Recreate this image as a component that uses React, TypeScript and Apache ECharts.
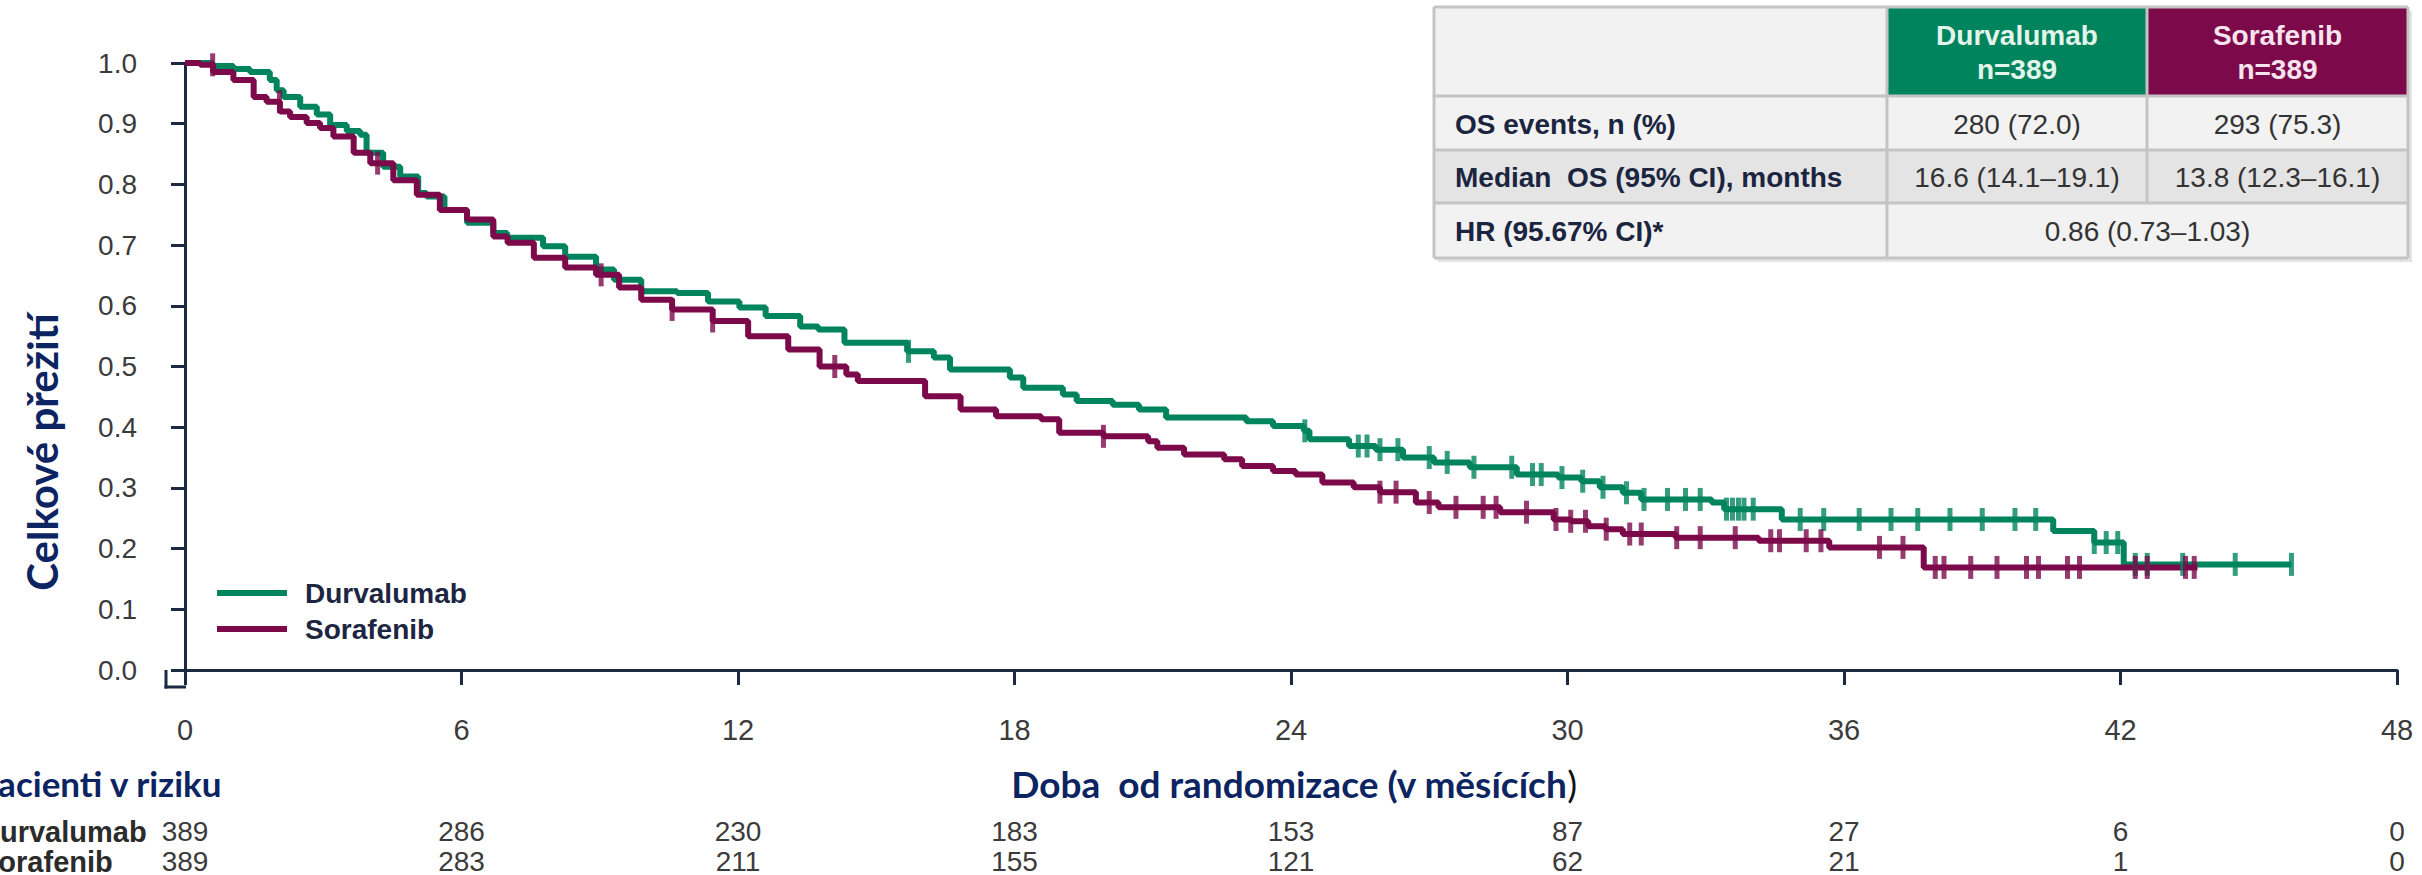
import { useEffect, useRef } from "react";
import * as echarts from "echarts";

// Months since randomisation shown on the time axis and the risk table
const monthTicks = [0, 6, 12, 18, 24, 30, 36, 42, 48];
const durvalumabAtRisk = [389, 286, 230, 183, 153, 87, 27, 6, 0];
const sorafenibAtRisk = [389, 283, 211, 155, 121, 62, 21, 1, 0];

// Kaplan–Meier estimates: [month, survival probability] after each drop
const durvalumabCurve: [number, number][] = [
  [0, 1.0], [0.6, 0.995], [1.05, 0.99], [1.41, 0.985], [1.84, 0.972], [1.99, 0.955],
  [2.14, 0.944], [2.5, 0.928], [2.86, 0.915], [3.15, 0.898], [3.51, 0.888], [3.8, 0.882],
  [3.94, 0.852], [4.3, 0.829], [4.67, 0.813], [5.06, 0.786], [5.24, 0.78], [5.63, 0.758],
  [6.12, 0.737], [6.69, 0.72], [6.99, 0.712], [7.77, 0.698], [8.25, 0.681], [8.92, 0.66],
  [9.31, 0.643], [9.9, 0.624], [10.68, 0.621], [11.35, 0.607], [12.03, 0.597], [12.6, 0.583],
  [13.35, 0.566], [13.74, 0.561], [14.31, 0.539], [15.67, 0.525], [16.25, 0.515], [16.6, 0.495],
  [17.9, 0.482], [18.19, 0.465], [19.05, 0.454], [19.35, 0.443], [20.13, 0.437], [20.7, 0.429],
  [21.29, 0.416], [23.03, 0.41], [23.61, 0.402], [24.28, 0.394], [24.4, 0.38], [25.26, 0.369],
  [25.84, 0.363], [26.43, 0.35], [27.1, 0.342], [27.88, 0.334], [28.9, 0.322], [29.8, 0.317],
  [30.3, 0.311], [30.7, 0.301], [31.2, 0.292], [31.6, 0.281], [33.13, 0.276], [33.4, 0.265],
  [34.65, 0.248], [40.54, 0.229], [41.43, 0.21], [42.07, 0.174], [45.71, 0.174],
];
const sorafenibCurve: [number, number][] = [
  [0, 1.0], [0.33, 0.997], [0.61, 0.985], [1.05, 0.972], [1.49, 0.944], [1.77, 0.936],
  [2.06, 0.92], [2.28, 0.911], [2.64, 0.901], [2.93, 0.893], [3.22, 0.879], [3.66, 0.852],
  [4.02, 0.835], [4.52, 0.807], [5.03, 0.783], [5.53, 0.758], [6.12, 0.742], [6.69, 0.714],
  [7.0, 0.704], [7.57, 0.679], [8.25, 0.663], [8.92, 0.651], [9.42, 0.63], [9.9, 0.61],
  [10.57, 0.594], [11.45, 0.575], [12.22, 0.55], [13.09, 0.528], [13.77, 0.5], [14.35, 0.487],
  [14.6, 0.476], [16.06, 0.451], [16.83, 0.429], [17.6, 0.418], [18.58, 0.413], [18.97, 0.391],
  [19.93, 0.385], [20.9, 0.377], [21.1, 0.366], [21.68, 0.355], [22.55, 0.347], [22.94, 0.336],
  [23.61, 0.328], [24.1, 0.322], [24.68, 0.309], [25.36, 0.301], [25.93, 0.293], [26.71, 0.276],
  [27.2, 0.268], [28.54, 0.26], [29.7, 0.248], [30.07, 0.245], [30.45, 0.237], [30.83, 0.232],
  [31.2, 0.224], [32.35, 0.218], [34.15, 0.213], [35.68, 0.202], [37.73, 0.169], [43.67, 0.169],
];

// Months at which patients were censored
const durvalumabCensored = [
  15.7, 24.3, 25.46, 25.65, 25.93, 26.32, 27.0, 27.39, 27.97, 28.79, 29.24, 29.43, 29.88,
  30.33, 30.77, 31.28, 31.66, 32.17, 32.56, 32.88, 33.45, 33.58, 33.71, 33.83, 34.03, 35.05,
  35.56, 36.33, 37.02, 37.6, 38.3, 39.0, 39.71, 40.16, 41.43, 41.69, 41.94, 42.32, 42.58,
  43.35, 44.49, 45.71,
];
const sorafenibCensored = [
  0.6, 2.05, 4.18, 9.03, 10.57, 11.45, 14.1, 19.93, 25.93, 26.28, 27.0, 27.58, 28.17, 28.45,
  29.11, 29.75, 30.07, 30.39, 30.84, 31.35, 31.6, 32.37, 32.88, 33.64, 34.41, 34.6, 35.18,
  35.5, 36.77, 37.28, 37.98, 38.17, 38.75, 39.32, 39.96, 40.22, 40.85, 41.11, 42.32, 42.58,
  43.41, 43.6,
];

// Summary table
const armHeaders = ["Durvalumab", "Sorafenib"];
const armSizes = ["n=389", "n=389"];
const statLabels = ["OS events, n (%)", "Median  OS (95% CI), months", "HR (95.67% CI)*"];
const durvalumabStats = ["280 (72.0)", "16.6 (14.1–19.1)"];
const sorafenibStats = ["293 (75.3)", "13.8 (12.3–16.1)"];
const hazardRatio = "0.86 (0.73–1.03)";

const GREEN = "#00845e";
const MAROON = "#7c0a4b";
const AXIS = "#1b2943";
const NAVY = "#0c2461";
const LABEL = "#3b3b3b";
const SANS = "'Liberation Sans', Arial, sans-serif";
const TITLE_FONT = "Lato, 'Open Sans', sans-serif";

function survivalAt(curve: [number, number][], t: number): number {
  let s = curve[0][1];
  for (const [time, value] of curve) {
    if (time <= t) s = value;
    else break;
  }
  return s;
}

function riskAxis(counts: number[], offset: number) {
  return {
    type: "value",
    min: 0,
    max: 48,
    interval: 6,
    position: "bottom",
    offset,
    axisLine: { show: false },
    axisTick: { show: false },
    splitLine: { show: false },
    axisLabel: {
      margin: 0,
      fontFamily: SANS,
      fontSize: 28,
      color: LABEL,
      formatter: (v: number) => {
        const i = monthTicks.indexOf(v);
        return i >= 0 ? String(counts[i]) : "";
      },
    },
  };
}

function buildTable() {
  const left = 1434;
  const right = 2408;
  const col1 = 1887;
  const col2 = 2147;
  const rows = [7, 96, 150, 203, 258];
  const line = "#c4c4c4";
  const c1 = (col1 + col2) / 2;
  const c2 = (col2 + right) / 2;
  const children: any[] = [
    // soft drop shadow behind the table
    { type: "rect", shape: { x: left + 4, y: rows[0] + 4, width: right - left, height: rows[4] - rows[0] }, style: { fill: "#e4e4e4" } },
    { type: "rect", shape: { x: left, y: rows[0], width: right - left, height: rows[4] - rows[0] }, style: { fill: "#f2f2f2" } },
    { type: "rect", shape: { x: left, y: rows[2], width: right - left, height: rows[3] - rows[2] }, style: { fill: "#e4e4e4" } },
    { type: "rect", shape: { x: col1, y: rows[0], width: col2 - col1, height: rows[1] - rows[0] }, style: { fill: GREEN } },
    { type: "rect", shape: { x: col2, y: rows[0], width: right - col2, height: rows[1] - rows[0] }, style: { fill: MAROON } },
  ];
  for (const y of rows) {
    children.push({ type: "line", shape: { x1: left, y1: y, x2: right, y2: y }, style: { stroke: line, lineWidth: 3 } });
  }
  children.push({ type: "line", shape: { x1: left, y1: rows[0], x2: left, y2: rows[4] }, style: { stroke: line, lineWidth: 3 } });
  children.push({ type: "line", shape: { x1: right, y1: rows[0], x2: right, y2: rows[4] }, style: { stroke: line, lineWidth: 3 } });
  children.push({ type: "line", shape: { x1: col1, y1: rows[0], x2: col1, y2: rows[4] }, style: { stroke: line, lineWidth: 3 } });
  children.push({ type: "line", shape: { x1: col2, y1: rows[0], x2: col2, y2: rows[3] }, style: { stroke: line, lineWidth: 3 } });

  const headerX = [c1, c2];
  const headerInk = ["#e3f4ea", "#f8e4ee"];
  armHeaders.forEach((h, i) => {
    children.push({ type: "text", style: { text: h, x: headerX[i], y: 35, textAlign: "center", textVerticalAlign: "middle", fill: headerInk[i], font: `bold 28px ${SANS}` } });
    children.push({ type: "text", style: { text: armSizes[i], x: headerX[i], y: 69, textAlign: "center", textVerticalAlign: "middle", fill: headerInk[i], font: `bold 28px ${SANS}` } });
  });
  statLabels.forEach((label, i) => {
    const cy = (rows[i + 1] + rows[i + 2]) / 2 + 1;
    children.push({ type: "text", style: { text: label, x: left + 21, y: cy, textVerticalAlign: "middle", fill: "#1b2540", font: `bold 28px ${SANS}` } });
    if (i < 2) {
      children.push({ type: "text", style: { text: durvalumabStats[i], x: c1, y: cy, textAlign: "center", textVerticalAlign: "middle", fill: "#333", font: `28px ${SANS}` } });
      children.push({ type: "text", style: { text: sorafenibStats[i], x: c2, y: cy, textAlign: "center", textVerticalAlign: "middle", fill: "#333", font: `28px ${SANS}` } });
    } else {
      children.push({ type: "text", style: { text: hazardRatio, x: (col1 + right) / 2, y: cy, textAlign: "center", textVerticalAlign: "middle", fill: "#333", font: `28px ${SANS}` } });
    }
  });
  return { type: "group", children };
}

export default function App() {
  const ref = useRef<HTMLDivElement>(null);

  useEffect(() => {
    if (!ref.current) return;
    const chart = echarts.init(ref.current, null, { renderer: "svg" });

    const lineSeries = (name: string, color: string, data: [number, number][]) => ({
      name,
      type: "line",
      step: "end",
      data,
      showSymbol: false,
      silent: true,
      color,
      lineStyle: { color, width: 6 },
      z: 3,
    });
    const censorSeries = (name: string, color: string, curve: [number, number][], times: number[]) => ({
      name,
      type: "scatter",
      data: times.map((t) => [t, survivalAt(curve, t)]),
      symbol: "rect",
      symbolSize: [5, 23],
      silent: true,
      itemStyle: { color },
      z: 4,
    });

    chart.setOption({
      animation: false,
      backgroundColor: "#ffffff",
      grid: { left: 185, right: 25, top: 63, bottom: 204 },
      legend: {
        data: ["Durvalumab", "Sorafenib"],
        orient: "vertical",
        left: 212,
        top: 574,
        icon: "rect",
        itemWidth: 70,
        itemHeight: 6,
        itemGap: 8,
        selectedMode: false,
        textStyle: { fontFamily: SANS, fontSize: 28, fontWeight: "bold", color: "#1c2541", padding: [0, 0, 0, 13] },
      },
      xAxis: [
        {
          type: "value",
          min: 0,
          max: 48,
          interval: 6,
          offset: 16,
          axisLine: { show: true, lineStyle: { color: AXIS, width: 3 } },
          axisTick: { show: true, length: 15, lineStyle: { color: AXIS, width: 3 } },
          splitLine: { show: false },
          axisLabel: { margin: 29, fontFamily: SANS, fontSize: 29, color: LABEL },
        },
        riskAxis(durvalumabAtRisk, 147),
        riskAxis(sorafenibAtRisk, 177),
      ],
      yAxis: {
        type: "value",
        min: 0,
        max: 1,
        interval: 0.1,
        offset: 19,
        axisLine: { show: true, lineStyle: { color: AXIS, width: 3 } },
        axisTick: { show: true, length: 14, lineStyle: { color: AXIS, width: 3 } },
        splitLine: { show: false },
        axisLabel: { margin: 29, fontFamily: SANS, fontSize: 28, color: LABEL, formatter: (v: number) => v.toFixed(1) },
      },
      series: [
        lineSeries("Durvalumab", GREEN, durvalumabCurve),
        lineSeries("Sorafenib", MAROON, sorafenibCurve),
        censorSeries("Durvalumab censored", GREEN, durvalumabCurve, durvalumabCensored),
        censorSeries("Sorafenib censored", MAROON, sorafenibCurve, sorafenibCensored),
      ],
      graphic: [
        // join the offset axes at the origin corner
        { type: "line", shape: { x1: 166, y1: 670, x2: 166, y2: 688.5 }, style: { stroke: AXIS, lineWidth: 3 } },
        { type: "line", shape: { x1: 164.5, y1: 687, x2: 186, y2: 687 }, style: { stroke: AXIS, lineWidth: 3 } },
        {
          type: "text",
          x: 42,
          y: 452,
          rotation: Math.PI / 2,
          style: { text: "Celkové přežití", textAlign: "center", textVerticalAlign: "middle", fill: NAVY, font: `bold 42px ${TITLE_FONT}` },
        },
        {
          type: "text",
          style: {
            text: "{a|Doba  od randomizace (v měsících}{b|)}",
            x: 1294,
            y: 783,
            textAlign: "center",
            textVerticalAlign: "middle",
            rich: {
              a: { fill: NAVY, fontFamily: TITLE_FONT, fontWeight: "bold", fontSize: 37 },
              b: { fill: "#111111", fontFamily: TITLE_FONT, fontSize: 37 },
            },
          },
        },
        { type: "text", style: { text: "Pacienti v riziku", x: -23, y: 783, textVerticalAlign: "middle", fill: NAVY, font: `bold 35px ${TITLE_FONT}` } },
        { type: "text", style: { text: "Durvalumab", x: -21, y: 832, textVerticalAlign: "middle", fill: "#2b2b2b", font: `bold 29px ${SANS}` } },
        { type: "text", style: { text: "Sorafenib", x: -21, y: 862, textVerticalAlign: "middle", fill: "#2b2b2b", font: `bold 29px ${SANS}` } },
        buildTable(),
      ],
    });

    return () => chart.dispose();
  }, []);

  return <div ref={ref} style={{ position: "fixed", left: 0, top: 0, width: 2422, height: 875, background: "#fff" }} />;
}
